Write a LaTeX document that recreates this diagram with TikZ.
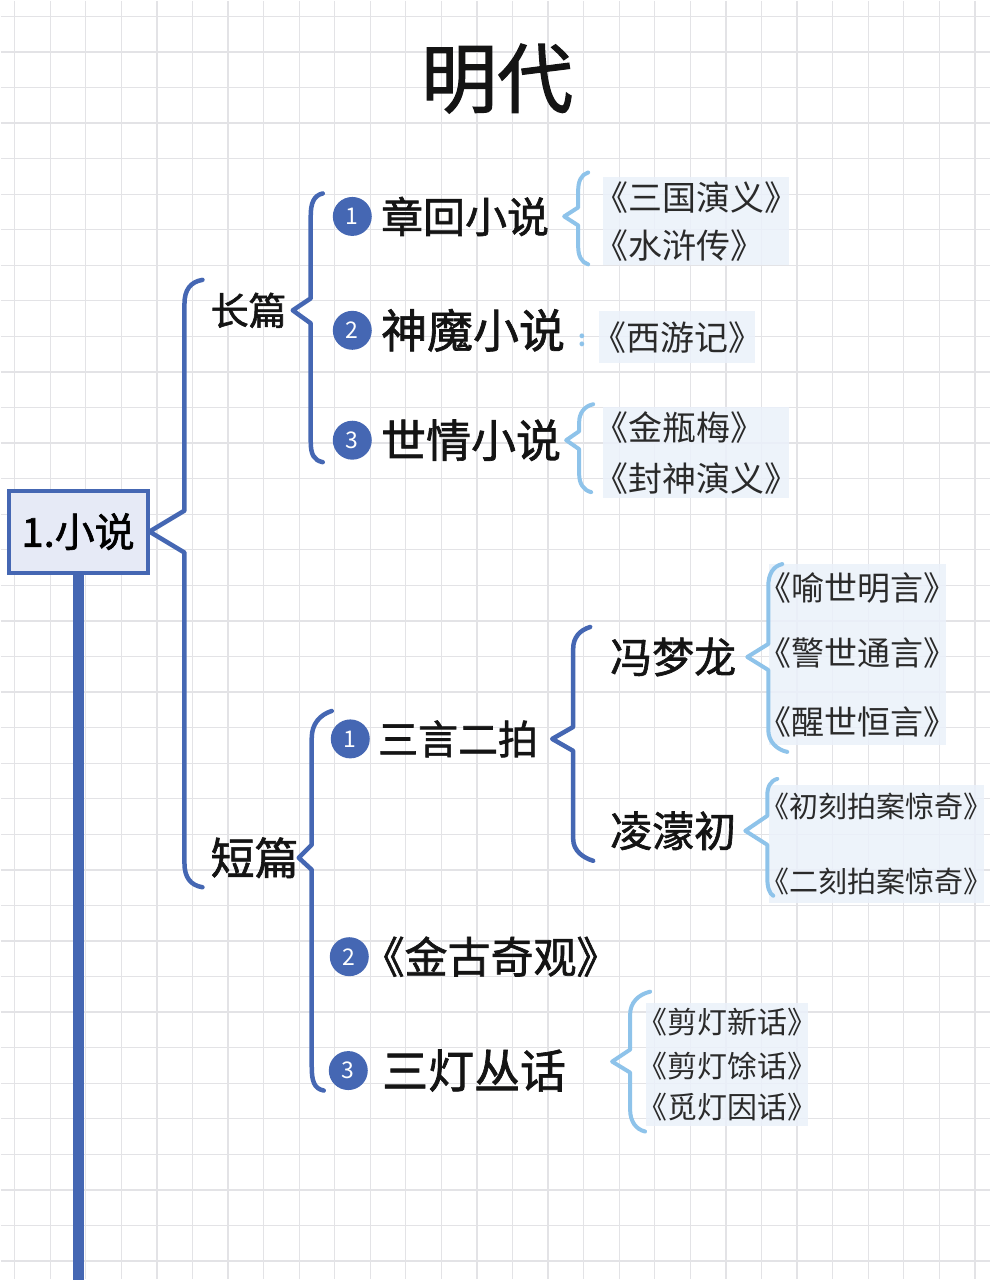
\documentclass[tikz,border=0pt]{standalone}
\usepackage{fontspec}
\setmainfont[RawFeature=+halt]{Noto Sans CJK SC}
\newfontfamily\handfont[RawFeature=+halt, FakeBold=1.5]{Noto Sans CJK SC}
\usetikzlibrary{positioning,fit}
\definecolor{darkblue}{HTML}{4567B3}
\definecolor{lightblue}{HTML}{8EC3EA}
\definecolor{boxfill}{HTML}{E6EAF6}
\definecolor{bookfill}{HTML}{EBF1FA}
\definecolor{gridgray}{HTML}{E3E3E6}
\definecolor{booktext}{HTML}{2A2A2A}
\pgfdeclarelayer{grid}
\pgfdeclarelayer{fills}
\pgfsetlayers{grid,fills,main}

\begin{document}
\begin{tikzpicture}[x=1pt, y=-1pt,
  hand/.style={font=\handfont\fontsize{#1}{#1}\selectfont, text=black!92, inner sep=0pt, anchor=west},
  hand/.default=42,
  book/.style={font=\fontsize{#1}{#1}\selectfont, text=booktext, inner sep=0pt, anchor=west},
  book/.default=34,
  num/.style={circle, fill=darkblue, text=white, minimum size=39pt, inner sep=0pt, font=\fontsize{23}{23}\selectfont},
  mainbox/.style={rectangle, draw=darkblue, line width=4pt, fill=boxfill, minimum width=139pt, minimum height=82pt, inner sep=0pt, font=\handfont\fontsize{40}{40}\selectfont},
  bookbg/.style={rectangle, fill=bookfill, fill opacity=0.85, inner xsep=6pt, inner ysep=4pt},
  darkbr/.style={draw=darkblue, line width=4.5pt, line cap=round, line join=round},
  lightbr/.style={draw=lightblue, line width=4pt, line cap=round, line join=round},
  gridline/.style={draw=gridgray, line width=1.3pt}]

% Сетка
\begin{pgfonlayer}{grid}
\fill[white] (0,0) rectangle (990,1280);
\foreach \i in {0,...,27} \draw[gridline] ({14+35.6*\i},0) -- ({14+35.6*\i},1280);
\foreach \j in {0,...,35} \draw[gridline] (0,{15.7+35.6*\j}) -- (990,{15.7+35.6*\j});
\end{pgfonlayer}
\useasboundingbox (0,0) rectangle (990,1280);

% Заголовок
\node[hand=76, anchor=center] (title) at (497,78) {明代};

% Левый уровень
\node[mainbox] (main) at (77.5,531.5) {1.小说};
\coordinate (stemEnd) at (77.5,1290);
\draw[darkblue, line width=11pt] (main.south) -- (stemEnd);

\node[hand=38] (long) at (210,310) {长篇};
\node[hand=44] (short) at (210,858) {短篇};

% Длинные
\node[num] (l1) at (352,216) {1};
\node[hand] (zhanghui) [right=9pt of l1] {章回小说};
\node[num] (l2) at (352,330) {2};
\node[hand=46] (shenmo) [right=9pt of l2] {神魔小说};
\node[text=lightblue, font=\fontsize{22}{22}\selectfont\bfseries, inner sep=0pt] (dots) at (582,340) {:};
\node[num] (l3) at (352,440) {3};
\node[hand=45] (shiqing) [right=9pt of l3] {世情小说};

\node[book] (sanguo) at (611,197) {《三国演义》};
\node[book, below=48pt of sanguo.west, anchor=west] (shuihu) {《水浒传》};
\node[book] (xiyou) at (609,337) {《西游记》};
\node[book] (jinping) at (611,427) {《金瓶梅》};
\node[book, below=51pt of jinping.west, anchor=west] (fengshen) {《封神演义》};

% Короткие
\node[num] (s1) at (350,739) {1};
\node[hand=40] (sanyan) [right=8pt of s1] {三言二拍};
\node[num] (s2) at (349,957) {2};
\node[hand=43] (jingu) [right=14pt of s2] {《金古奇观》};
\node[num] (s3) at (348,1071) {3};
\node[hand=46] (sandeng) [right=14pt of s3] {三灯丛话};

\node[hand] (feng) at (610,657) {冯梦龙};
\node[hand] (ling) at (610,831) {凌濛初};

\node[book=33] (yushi) at (775,588) {《喻世明言》};
\node[book=33, below=65pt of yushi.west, anchor=west] (jingshi) {《警世通言》};
\node[book=33, below=69pt of jingshi.west, anchor=west] (xingshi) {《醒世恒言》};
\node[book=29] (chuke) at (775,807) {《初刻拍案惊奇》};
\node[book=29, below=75pt of chuke.west, anchor=west] (erke) {《二刻拍案惊奇》};
\node[book=30] (jiandeng) at (652,1022) {《剪灯新话》};
\node[book=30, below=45pt of jiandeng.west, anchor=west] (yuhua) {《剪灯馀话》};
\node[book=30, below=41pt of yuhua.west, anchor=west] (mideng) {《觅灯因话》};

% Подложки
\begin{pgfonlayer}{fills}
\node[bookbg, fit=(sanguo)(shuihu), inner xsep=8pt] (sanguoBg) {};
\node[bookbg, fit=(xiyou), inner xsep=10pt, inner ysep=10pt] (xiyouBg) {};
\node[bookbg, fit=(jinping)(fengshen), inner xsep=8pt] (jinpingBg) {};
\node[bookbg, fit=(yushi)(jingshi)(xingshi), inner ysep=8pt] (yushiBg) {};
\node[bookbg, fit=(chuke)(erke), inner ysep=8pt] (chukeBg) {};
\node[bookbg, fit=(jiandeng)(yuhua)(mideng)] (jiandengBg) {};
\end{pgfonlayer}

% Скобки
\coordinate (longTip) at ([xshift=6pt]long.east);
\coordinate (sanyanTip) at ([xshift=14pt]sanyan.east);
\coordinate (zhTip) at ([xshift=15pt]zhanghui.east);
\coordinate (sqTip) at ([xshift=5pt]shiqing.east);
\coordinate (fengTip) at ([xshift=11pt]feng.east);
\coordinate (lingTip) at ([xshift=9pt]ling.east);
\coordinate (sdTip) at ([xshift=46pt,yshift=9pt]sandeng.east);

\draw[darkbr] (main.east) ++(53,-252) .. controls +(-12,2) and +(0,-14) .. ++(-18,24) -- ++(0,207) -- (main.east) -- ++(35,21) -- ++(0,311) .. controls +(0,14) and +(-12,-2) .. ++(18,24);
\draw[darkbr] (longTip) ++(30,-117) .. controls +(-9,2) and +(0,-12) .. ++(-12,22) -- ++(0,83) -- (longTip) -- ++(18,13) -- ++(0,119) .. controls +(0,12) and +(-9,-2) .. ++(12,20);
\draw[darkbr] (short.east) ++(33,-147) .. controls +(-12,4) and +(0,-14) .. ++(-20,27) -- ++(0,107) -- (short.east) -- ++(13,12) -- ++(0,197) .. controls +(0,14) and +(-10,-2) .. ++(12,24);
\draw[darkbr] (sanyanTip) ++(38,-112) .. controls +(-10,3) and +(0,-12) .. ++(-17,22) -- ++(0,78) -- (sanyanTip) -- ++(21,12) -- ++(0,88) .. controls +(0,12) and +(-10,-3) .. ++(20,22);

\draw[lightbr] (zhTip) ++(24,-44) .. controls +(-7,2) and +(0,-9) .. ++(-10,18) -- ++(0,17) -- (zhTip) -- ++(14,9) -- ++(0,21) .. controls +(0,9) and +(-7,-2) .. ++(10,18);
\draw[lightbr] (sqTip) ++(27,-36) .. controls +(-9,2) and +(0,-9) .. ++(-14,18) -- ++(0,9) -- (sqTip) -- ++(13,9) -- ++(0,25) .. controls +(0,9) and +(-8,-2) .. ++(12,18);
\draw[lightbr] (fengTip) ++(35,-93) .. controls +(-9,2) and +(0,-12) .. ++(-14,22) -- ++(0,58) -- (fengTip) -- ++(21,13) -- ++(0,60) .. controls +(0,12) and +(-10,-2) .. ++(19,22);
\draw[lightbr] (lingTip) ++(32,-52) .. controls +(-7,2) and +(0,-9) .. ++(-10,17) -- ++(0,20) -- (lingTip) -- ++(22,14) -- ++(0,33) .. controls +(0,9) and +(-4,-2) .. ++(6,18);
\draw[lightbr] (sdTip) ++(38,-70) .. controls +(-12,3) and +(0,-12) .. ++(-20,23) -- ++(0,35) -- (sdTip) -- ++(18,11) -- ++(0,37) .. controls +(0,12) and +(-9,-2) .. ++(15,22);

\end{tikzpicture}
\end{document}
